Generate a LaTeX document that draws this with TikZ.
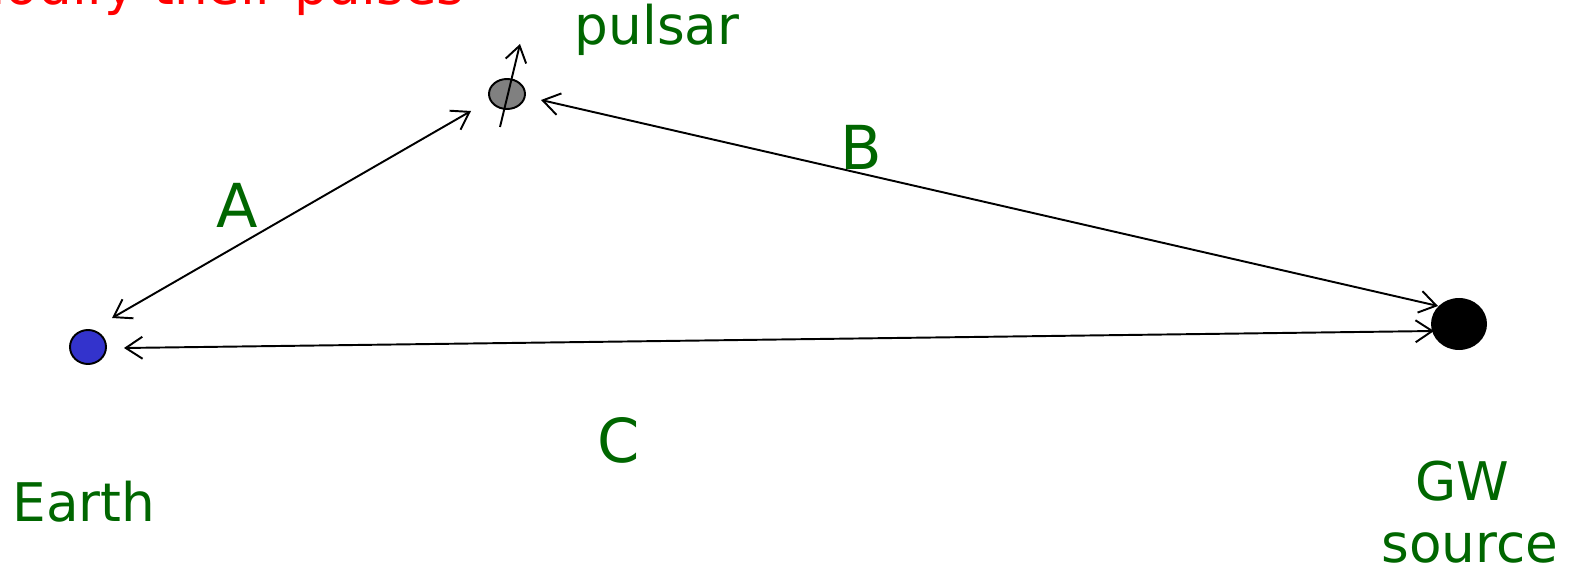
\documentclass[tikz,border=0pt]{standalone}
\usepackage{fontspec}
\setmainfont{DejaVu Sans}
\usetikzlibrary{arrows.meta}
\definecolor{lblgreen}{HTML}{006600}
\definecolor{earthblue}{HTML}{3333CC}
\tikzset{
  lbl/.style={text=lblgreen, font=\fontsize{30.3pt}{34pt}\selectfont, inner sep=0pt, align=center},
  big/.style={text=lblgreen, font=\fontsize{34.5pt}{40pt}\selectfont, inner sep=0pt},
  link/.style={line width=1.1pt, {Straight Barb[length=9.5pt,width=12.5pt,line width=1.1pt]}-{Straight Barb[length=9.5pt,width=12.5pt,line width=1.1pt]}},
  spin/.style={line width=1.1pt, -{Straight Barb[length=9pt,width=12pt,line width=1.1pt]}}
}
\begin{document}
\begin{tikzpicture}[x=0.02cm,y=-0.02cm]
\useasboundingbox (0,0) rectangle (1571,567);
\clip (0,0) rectangle (1571,567);
% bodies
\draw[fill=earthblue, line width=1.1pt] (88,347) ellipse [x radius=18, y radius=17];
\coordinate (earth) at (88,347);
\draw[fill=gray, line width=1.1pt] (507,94) ellipse [x radius=18, y radius=15];
\coordinate (pulsar) at (507,94);
\fill[black] (1459,324) ellipse [x radius=28, y radius=26];
\coordinate (gw) at (1459,324);
% connector endpoints
\coordinate (aE) at (112,318);
\coordinate (aP) at (471,111);
\coordinate (bP) at (541,100);
\coordinate (bG) at (1438,306);
\coordinate (cE) at (124,348);
\coordinate (cG) at (1434,331);
\coordinate (s0) at (500,127);
\coordinate (s1) at (520,44);
\draw[link] (aE) -- (aP);
\draw[link] (bP) -- (bG);
\draw[link] (cE) -- (cG);
\draw[spin] (s0) -- (s1);
% labels
\node[lbl, anchor=base east, text=red] (mod) at (465,5) {modify their pulses};
\node[lbl] (pl) at (657,30) {pulsar};
\node[lbl] (el) at (84,502) {Earth};
\node[lbl, anchor=base] (gl1) at (1462,500) {GW};
\node[lbl, anchor=base] (gl2) at (1470,562) {source};
\node[big] (la) at (237,205) {A};
\node[big] (lb) at (861,147) {B};
\node[big] (lc) at (619,440) {C};
\end{tikzpicture}
\end{document}
